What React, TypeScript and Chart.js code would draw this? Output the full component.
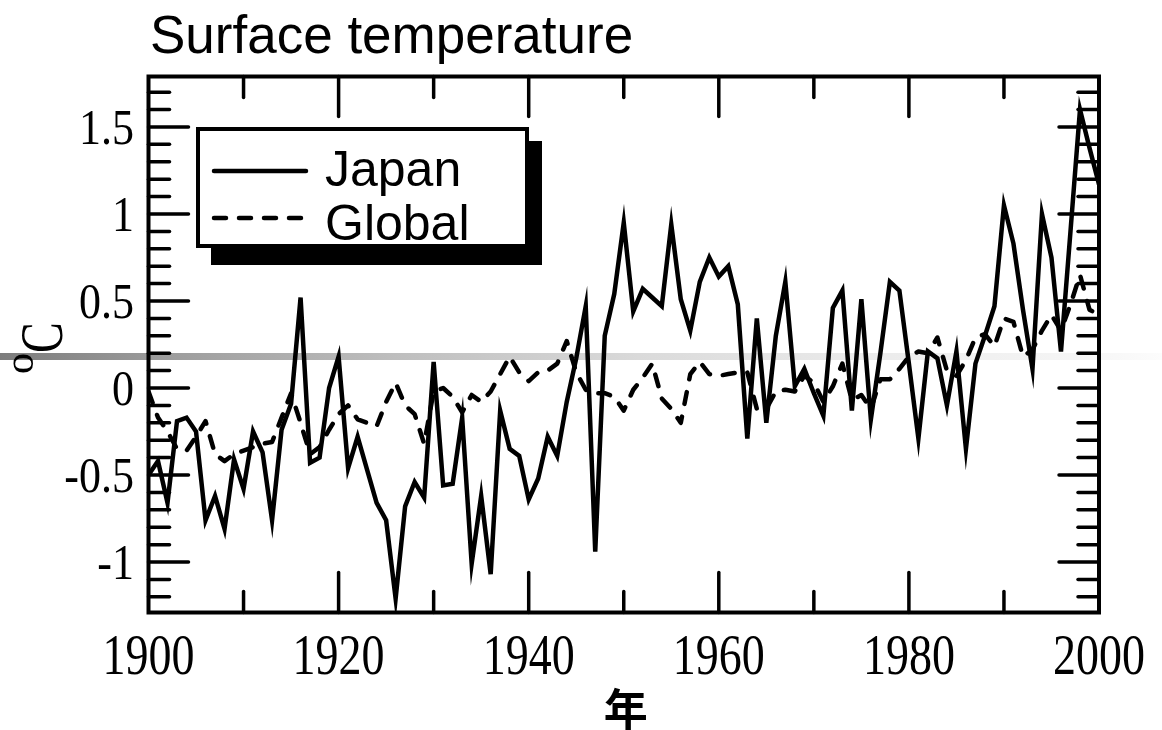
import React, { useEffect, useRef } from 'react';
import { Chart, registerables } from 'chart.js';

Chart.register(...registerables);

const START_YEAR = 1900;

const japan = [
  -0.50, -0.42, -0.66, -0.19, -0.17, -0.25, -0.76, -0.62, -0.81, -0.41,
  -0.58, -0.25, -0.37, -0.76, -0.24, -0.09, 0.52, -0.43, -0.40, 0.00,
  0.18, -0.46, -0.28, -0.47, -0.66, -0.76, -1.21, -0.68, -0.54, -0.63,
  0.15, -0.56, -0.55, -0.17, -1.01, -0.62, -1.07, -0.13, -0.35, -0.39,
  -0.64, -0.52, -0.28, -0.39, -0.08, 0.17, 0.47, -0.94, 0.30, 0.54,
  0.95, 0.44, 0.57, 0.52, 0.47, 0.94, 0.51, 0.33, 0.61, 0.75,
  0.64, 0.70, 0.48, -0.29, 0.40, -0.20, 0.30, 0.61, 0.01, 0.11,
  -0.03, -0.16, 0.46, 0.56, -0.13, 0.51, -0.18, 0.20, 0.61, 0.56,
  0.14, -0.29, 0.21, 0.17, -0.10, 0.21, -0.35, 0.14, 0.30, 0.47,
  1.05, 0.83, 0.45, 0.11, 1.00, 0.75, 0.21, 0.90, 1.60, 1.38,
  1.17,
];

const globalT = [
  -0.02, -0.17, -0.25, -0.35, -0.36, -0.28, -0.19, -0.38, -0.42, -0.38,
  -0.36, -0.34, -0.32, -0.31, -0.17, -0.03, -0.20, -0.38, -0.34, -0.24,
  -0.15, -0.10, -0.18, -0.20, -0.22, -0.08, 0.03, -0.10, -0.15, -0.32,
  -0.02, 0.00, -0.05, -0.14, -0.04, -0.08, -0.02, 0.08, 0.18, 0.09,
  0.04, 0.09, 0.10, 0.14, 0.27, 0.09, -0.01, -0.03, -0.03, -0.05,
  -0.13, -0.01, 0.06, 0.14, -0.06, -0.12, -0.20, 0.08, 0.15, 0.08,
  0.07, 0.08, 0.09, 0.09, -0.12, -0.12, -0.02, -0.01, -0.02, 0.07,
  0.03, -0.08, 0.01, 0.14, -0.07, -0.04, -0.12, 0.05, 0.05, 0.11,
  0.18, 0.21, 0.20, 0.29, 0.10, 0.07, 0.16, 0.29, 0.31, 0.24,
  0.40, 0.38, 0.18, 0.22, 0.33, 0.42, 0.33, 0.48, 0.65, 0.45,
  0.42,
];

const years = japan.map((_, i) => START_YEAR + i);

const xTickLabels = ['1900', '1920', '1940', '1960', '1980', '2000'];
const yTickLabels = ['1.5', '1', '0.5', '0', '-0.5', '-1'];
const xMinorYears = [1910, 1920, 1930, 1940, 1950, 1960, 1970, 1980, 1990];
const yMinorValues = [
  -1.2, -1.1, -1.0, -0.9, -0.8, -0.7, -0.6, -0.5, -0.4, -0.3, -0.2, -0.1, 0,
  0.1, 0.2, 0.3, 0.4, 0.5, 0.6, 0.7, 0.8, 0.9, 1.0, 1.1, 1.2, 1.3, 1.4, 1.5, 1.6, 1.7,
];

const seriesNames = ['Japan', 'Global'];
const titleText = 'Surface temperature';
const xTitle = '年';

const SERIF = '"Liberation Serif", "Times New Roman", serif';
const SANS = '"Liberation Sans", Arial, sans-serif';

const decor = {
  id: 'decor',
  beforeDraw(chart: any) {
    const ctx = chart.ctx as CanvasRenderingContext2D;
    ctx.save();
    ctx.fillStyle = '#fff';
    ctx.fillRect(0, 0, chart.width, chart.height);
    const g = ctx.createLinearGradient(0, 0, chart.width, 0);
    g.addColorStop(0, '#7c7c7c');
    g.addColorStop(0.13, '#9a9a9a');
    g.addColorStop(0.34, '#bebebe');
    g.addColorStop(0.55, '#dadada');
    g.addColorStop(0.75, '#ebebeb');
    g.addColorStop(0.94, '#f6f6f6');
    g.addColorStop(1, '#fcfcfc');
    ctx.fillStyle = g;
    ctx.fillRect(0, 353, chart.width, 7);
    ctx.restore();
  },
  afterDatasetsDraw(chart: any) {
    const ctx = chart.ctx as CanvasRenderingContext2D;
    const { left, right, top, bottom } = chart.chartArea;
    const xs = chart.scales.x;
    const ys = chart.scales.y;
    ctx.save();
    ctx.strokeStyle = '#000';
    ctx.fillStyle = '#000';

    // ticks
    ctx.lineWidth = 3.5;
    ctx.lineCap = 'round';
    const line = (x1: number, y1: number, x2: number, y2: number) => {
      ctx.beginPath();
      ctx.moveTo(x1, y1);
      ctx.lineTo(x2, y2);
      ctx.stroke();
    };
    xMinorYears.forEach((yr) => {
      const px = xs.getPixelForValue(yr);
      const len = yr % 20 === 0 ? 40 : 21;
      line(px, bottom, px, bottom - len);
      line(px, top, px, top + len);
    });
    yMinorValues.forEach((v) => {
      const py = ys.getPixelForValue(v);
      const major = Math.abs(Math.round(v * 10) % 5) === 0;
      const len = major ? 40 : 21;
      line(left, py, left + len, py);
      line(right, py, right - len, py);
    });

    // frame
    ctx.lineCap = 'butt';
    ctx.lineJoin = 'miter';
    ctx.lineWidth = 4;
    ctx.strokeRect(left, top, right - left, bottom - top);

    // y tick labels
    const stretch = 1.15;
    ctx.font = `44px ${SERIF}`;
    ctx.textAlign = 'right';
    ctx.textBaseline = 'alphabetic';
    yTickLabels.forEach((lab) => {
      const py = ys.getPixelForValue(Number(lab));
      ctx.save();
      ctx.translate(134, py + 0.338 * 44 * stretch);
      ctx.scale(1, stretch);
      ctx.fillText(lab, 0, 0);
      ctx.restore();
    });

    // x tick labels
    ctx.font = `46px ${SERIF}`;
    ctx.textAlign = 'center';
    xTickLabels.forEach((lab) => {
      const px = xs.getPixelForValue(Number(lab));
      ctx.save();
      ctx.translate(px, 674);
      ctx.scale(1, 1.25);
      ctx.fillText(lab, 0, 0);
      ctx.restore();
    });

    // y axis title: superscript o + C, rotated
    ctx.save();
    ctx.translate(62, 374);
    ctx.rotate(-Math.PI / 2);
    ctx.textAlign = 'left';
    ctx.font = `42px ${SERIF}`;
    ctx.fillText('o', 0, -29);
    ctx.font = `46px ${SERIF}`;
    ctx.scale(1, 1.35);
    ctx.fillText('C', 21, 0);
    ctx.restore();

    // x axis title
    ctx.font = `700 44px "Noto Sans CJK JP", "Noto Sans CJK SC", sans-serif`;
    ctx.textAlign = 'center';
    ctx.textBaseline = 'middle';
    ctx.fillText(xTitle, (left + right) / 2 + 2, 709);

    // chart title
    ctx.font = `53px ${SANS}`;
    ctx.textAlign = 'left';
    ctx.textBaseline = 'alphabetic';
    ctx.fillText(titleText, 150, 53);

    // legend with shadow
    ctx.fillStyle = '#000';
    ctx.fillRect(211, 141, 331, 124);
    ctx.fillStyle = '#fff';
    ctx.fillRect(198, 129, 329, 117);
    ctx.lineWidth = 4;
    ctx.strokeStyle = '#000';
    ctx.strokeRect(198, 129, 329, 117);
    const ds = chart.data.datasets;
    const rows = [171, 218];
    const baselines = [186, 240];
    rows.forEach((ry, i) => {
      ctx.save();
      ctx.lineWidth = 4.5;
      ctx.lineCap = 'round';
      ctx.setLineDash(ds[i].borderDash || []);
      ctx.strokeStyle = ds[i].borderColor;
      ctx.beginPath();
      ctx.moveTo(214, ry);
      ctx.lineTo(306, ry);
      ctx.stroke();
      ctx.restore();
      ctx.fillStyle = '#000';
      ctx.font = `50px ${SANS}`;
      ctx.textAlign = 'left';
      ctx.textBaseline = 'alphabetic';
      ctx.fillText(seriesNames[i], 325, baselines[i]);
    });

    ctx.restore();
  },
};

export default function App() {
  const ref = useRef<HTMLCanvasElement | null>(null);
  useEffect(() => {
    if (!ref.current) return;
    const chart = new Chart(ref.current, {
      type: 'line',
      data: {
        datasets: [
          {
            label: seriesNames[0],
            data: years.map((x, i) => ({ x, y: japan[i] })),
            borderColor: '#000',
            borderWidth: 4.5,
            pointRadius: 0,
            tension: 0,
            fill: false,
            borderJoinStyle: 'miter',
            borderCapStyle: 'butt',
          },
          {
            label: seriesNames[1],
            data: years.map((x, i) => ({ x, y: globalT[i] })),
            borderColor: '#000',
            borderWidth: 4.5,
            pointRadius: 0,
            tension: 0,
            fill: false,
            borderDash: [12, 13],
            borderCapStyle: 'round',
            borderJoinStyle: 'round',
          },
        ],
      } as any,
      options: {
        responsive: false,
        animation: false,
        devicePixelRatio: 1,
        events: [],
        layout: { padding: { left: 148.5, top: 76.5, right: 63, bottom: 117.5 } },
        plugins: {
          legend: { display: false },
          title: { display: false },
          tooltip: { enabled: false },
        },
        scales: {
          x: { type: 'linear', min: 1900, max: 2000, display: false },
          y: { type: 'linear', min: -1.29, max: 1.79, display: false },
        },
      } as any,
      plugins: [decor],
    });
    return () => chart.destroy();
  }, []);
  return (
    <div style={{ position: 'fixed', left: 0, top: 0, width: 1162, height: 730, background: '#fff' }}>
      <canvas ref={ref} width={1162} height={730} style={{ display: 'block' }} />
    </div>
  );
}
